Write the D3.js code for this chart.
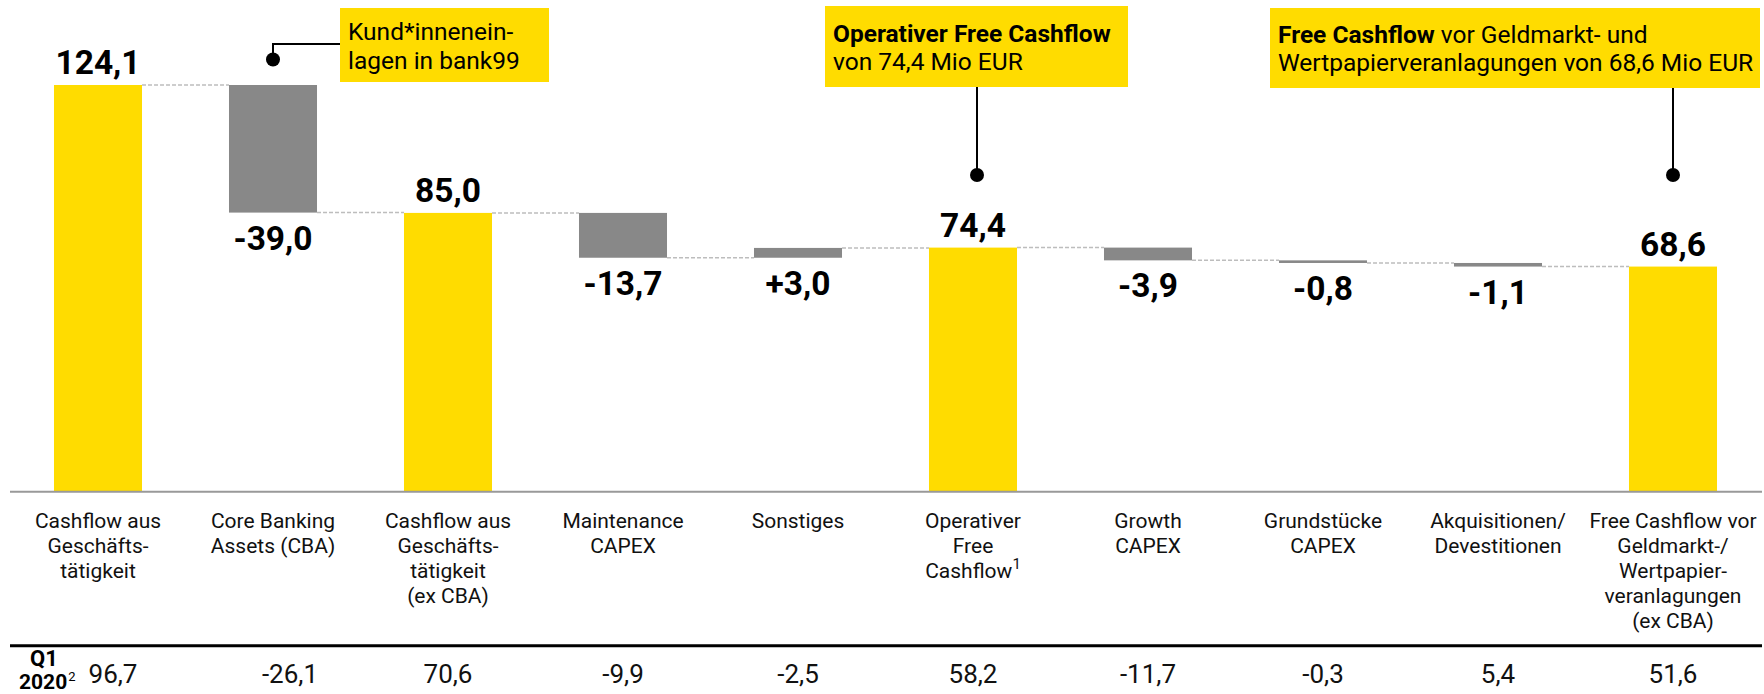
<!DOCTYPE html>
<html><head><meta charset="utf-8">
<script src="https://cdn.jsdelivr.net/npm/d3@7"></script>
<style>
html,body{margin:0;padding:0;background:#fff;}
svg{display:block;font-family:Roboto,"Liberation Sans",Arial,sans-serif;}
</style></head>
<body>
<svg id="chart" width="1764" height="694"></svg>
<script>
// ---------- data ----------
const categories = [
  "Cashflow aus|Geschäfts-|tätigkeit",
  "Core Banking|Assets (CBA)",
  "Cashflow aus|Geschäfts-|tätigkeit|(ex CBA)",
  "Maintenance|CAPEX",
  "Sonstiges",
  "Operativer|Free|Cashflow^1",
  "Growth|CAPEX",
  "Grundstücke|CAPEX",
  "Akquisitionen/|Devestitionen",
  "Free Cashflow vor|Geldmarkt-/|Wertpapier-|veranlagungen|(ex CBA)"
];
const barTypes = ["total","delta","total","delta","delta","total","delta","delta","delta","total"];
const values   = [124.1, -39.0, 85.0, -13.7, 3.0, 74.4, -3.9, -0.8, -1.1, 68.6];
const rowTitle = ["Q1", "2020"];
const rowValues = [96.7, -26.1, 70.6, -9.9, -2.5, 58.2, -11.7, -0.3, 5.4, 51.6];
const annotations = [
  {index: 1, lines: [[["Kund*innenein-", false]], [["lagen in bank99", false]]]},
  {index: 5, lines: [[["Operativer Free Cashflow", true]], [["von 74,4 Mio EUR", false]]]},
  {index: 9, lines: [[["Free Cashflow", true], [" vor Geldmarkt- und", false]], [["Wertpapierveranlagungen von 68,6 Mio EUR", false]]]}
];

// ---------- style ----------
const YELLOW = "#FFDC00", GREY = "#888888";
const fmt = v => v.toFixed(1).replace(".", ",");

// ---------- waterfall ----------
let run = 0;
const bars = values.map((v, i) => {
  let s, e;
  if (barTypes[i] === "total") { s = 0; e = v; run = v; }
  else { s = run; e = run + v; run = e; }
  return {i, s, e, v, type: barTypes[i], level: run};
});

const svg = d3.select("#chart");
const x = d3.scaleBand().domain(d3.range(categories.length))
  .range([10.5, 1760.5]).paddingInner(0.497).paddingOuter(0.2485);
const y = d3.scaleLinear().domain([0, 124.1]).range([491, 85]);
const bw = x.bandwidth();
const cx = i => x(i) + bw / 2;

// dashed connectors
svg.append("g").selectAll("line").data(bars.slice(0, -1)).join("line")
  .attr("x1", d => x(d.i) + bw).attr("x2", d => x(d.i + 1))
  .attr("y1", d => y(d.level)).attr("y2", d => y(d.level))
  .attr("stroke", "#bdbdbd").attr("stroke-width", 1.5).attr("stroke-dasharray", "4,2");

// bars
svg.append("g").selectAll("rect").data(bars).join("rect")
  .attr("x", d => x(d.i)).attr("width", bw)
  .attr("y", d => y(Math.max(d.s, d.e)))
  .attr("height", d => Math.abs(y(d.s) - y(d.e)))
  .attr("fill", d => d.type === "total" ? YELLOW : GREY);

// value labels
svg.append("g").selectAll("text").data(bars).join("text")
  .attr("x", d => cx(d.i))
  .attr("y", d => d.type === "total" ? y(d.e) - 11 : y(Math.min(d.s, d.e)) + 37)
  .attr("text-anchor", "middle").attr("font-weight", 700).attr("font-size", 33.5).attr("fill", "#000")
  .text(d => (d.type === "delta" && d.v > 0 ? "+" : "") + fmt(d.v));

// axis line
svg.append("line").attr("x1", 10).attr("x2", 1762).attr("y1", 491.7).attr("y2", 491.7)
  .attr("stroke", "#999").attr("stroke-width", 2);

// category labels
const cat = svg.append("g").selectAll("text").data(categories).join("text")
  .attr("text-anchor", "middle").attr("font-size", 21).attr("fill", "#111")
  .attr("transform", (d, i) => `translate(${cx(i)},0)`);
cat.each(function(d) {
  const t = d3.select(this);
  d.split("|").forEach((ln, k) => {
    const parts = ln.split("^");
    t.append("tspan").attr("x", 0).attr("y", 528 + k * 25).text(parts[0]);
    if (parts[1]) t.append("tspan").attr("font-size", 15).attr("dy", -9).text(parts[1]);
  });
});

// bottom table
svg.append("line").attr("x1", 10).attr("x2", 1762).attr("y1", 645.7).attr("y2", 645.7)
  .attr("stroke", "#000").attr("stroke-width", 3);
const rowShift = [15, 17, 0, 0, 0, 0, 0, 0, 0, 0];
svg.append("g").selectAll("text").data(rowValues).join("text")
  .attr("x", (d, i) => cx(i) + rowShift[i]).attr("y", 683)
  .attr("text-anchor", "middle").attr("font-size", 26).attr("fill", "#111")
  .text(d => fmt(d));
svg.append("text").attr("x", 44).attr("y", 666).attr("text-anchor", "middle")
  .attr("font-weight", 700).attr("font-size", 22).text(rowTitle[0]);
const t2 = svg.append("text").attr("x", 19).attr("y", 689).attr("font-weight", 700).attr("font-size", 21);
t2.append("tspan").text(rowTitle[1]);
t2.append("tspan").attr("font-weight", 400).attr("font-size", 13).attr("dx", 1).attr("dy", -8).text("2");

// annotations
const boxes = [
  {x0: 340, x1: 549, y0: 8, y1: 82},
  {x0: 825, x1: 1128, y0: 6, y1: 87},
  {x0: 1270, x1: 1760, y0: 8, y1: 88}
];
const baselines = [[40, 68.5], [41.5, 70], [42.5, 71]];
annotations.forEach((a, j) => {
  const b = boxes[j];
  const g = svg.append("g");
  g.append("rect").attr("x", b.x0).attr("y", b.y0).attr("width", b.x1 - b.x0).attr("height", b.y1 - b.y0).attr("fill", YELLOW);
  a.lines.forEach((ln, k) => {
    const t = g.append("text").attr("x", b.x0 + 8).attr("y", baselines[j][k]).attr("font-size", 24.5).attr("fill", "#000");
    ln.forEach(([s, bold]) => t.append("tspan").attr("font-weight", bold ? 700 : 400).text(s));
  });
  const px = cx(a.index);
  if (j === 0) {
    const dotY = 59.5;
    g.append("path").attr("d", `M${b.x0},44H${px}V${dotY}`).attr("fill", "none").attr("stroke", "#000").attr("stroke-width", 2);
    g.append("circle").attr("cx", px).attr("cy", dotY).attr("r", 7).attr("fill", "#000");
  } else {
    const lx = j === 1 ? px + 4 : px;
    const dotY = 175;
    g.append("line").attr("x1", lx).attr("x2", lx).attr("y1", b.y1).attr("y2", dotY).attr("stroke", "#000").attr("stroke-width", 2);
    g.append("circle").attr("cx", lx).attr("cy", dotY).attr("r", 7).attr("fill", "#000");
  }
});
</script>
</body></html>
